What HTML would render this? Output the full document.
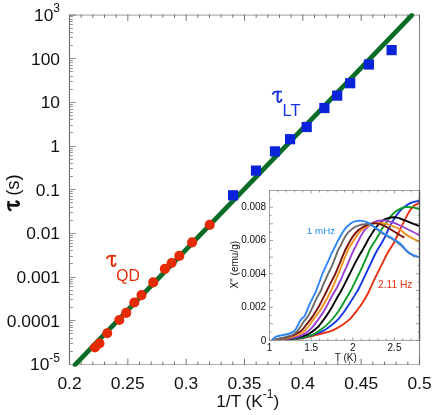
<!DOCTYPE html>
<html><head><meta charset="utf-8"><style>html,body{margin:0;padding:0;background:#fff}svg{display:block;will-change:transform}text{font-family:"Liberation Sans",sans-serif}</style></head><body>
<svg width="436" height="415" viewBox="0 0 436 415">
<rect width="436" height="415" fill="#fff"/>
<g stroke="#b0b0b0" stroke-width="1.2" fill="none">
<line x1="69.5" y1="15.1" x2="419.5" y2="15.1"/>
<line x1="69.5" y1="364.5" x2="419.5" y2="364.5"/>
</g>
<line x1="419.5" y1="15.0" x2="419.5" y2="365.0" stroke="#8a8a8a" stroke-width="1.1"/>
<line x1="69.5" y1="14.5" x2="69.5" y2="365.0" stroke="#6a6a6a" stroke-width="1.1"/>
<g stroke="#5e5e5e" stroke-width="0.85" fill="none">
<line x1="81.17" y1="364.9" x2="81.17" y2="361.5"/>
<line x1="81.17" y1="14.6" x2="81.17" y2="18.0"/>
<line x1="92.83" y1="364.9" x2="92.83" y2="361.5"/>
<line x1="92.83" y1="14.6" x2="92.83" y2="18.0"/>
<line x1="104.50" y1="364.9" x2="104.50" y2="361.5"/>
<line x1="104.50" y1="14.6" x2="104.50" y2="18.0"/>
<line x1="116.17" y1="364.9" x2="116.17" y2="361.5"/>
<line x1="116.17" y1="14.6" x2="116.17" y2="18.0"/>
<line x1="127.83" y1="364.9" x2="127.83" y2="358.7"/>
<line x1="127.83" y1="14.6" x2="127.83" y2="20.8"/>
<line x1="139.50" y1="364.9" x2="139.50" y2="361.5"/>
<line x1="139.50" y1="14.6" x2="139.50" y2="18.0"/>
<line x1="151.17" y1="364.9" x2="151.17" y2="361.5"/>
<line x1="151.17" y1="14.6" x2="151.17" y2="18.0"/>
<line x1="162.83" y1="364.9" x2="162.83" y2="361.5"/>
<line x1="162.83" y1="14.6" x2="162.83" y2="18.0"/>
<line x1="174.50" y1="364.9" x2="174.50" y2="361.5"/>
<line x1="174.50" y1="14.6" x2="174.50" y2="18.0"/>
<line x1="186.17" y1="364.9" x2="186.17" y2="358.7"/>
<line x1="186.17" y1="14.6" x2="186.17" y2="20.8"/>
<line x1="197.83" y1="364.9" x2="197.83" y2="361.5"/>
<line x1="197.83" y1="14.6" x2="197.83" y2="18.0"/>
<line x1="209.50" y1="364.9" x2="209.50" y2="361.5"/>
<line x1="209.50" y1="14.6" x2="209.50" y2="18.0"/>
<line x1="221.17" y1="364.9" x2="221.17" y2="361.5"/>
<line x1="221.17" y1="14.6" x2="221.17" y2="18.0"/>
<line x1="232.83" y1="364.9" x2="232.83" y2="361.5"/>
<line x1="232.83" y1="14.6" x2="232.83" y2="18.0"/>
<line x1="244.50" y1="364.9" x2="244.50" y2="358.7"/>
<line x1="244.50" y1="14.6" x2="244.50" y2="20.8"/>
<line x1="256.17" y1="364.9" x2="256.17" y2="361.5"/>
<line x1="256.17" y1="14.6" x2="256.17" y2="18.0"/>
<line x1="267.83" y1="364.9" x2="267.83" y2="361.5"/>
<line x1="267.83" y1="14.6" x2="267.83" y2="18.0"/>
<line x1="279.50" y1="364.9" x2="279.50" y2="361.5"/>
<line x1="279.50" y1="14.6" x2="279.50" y2="18.0"/>
<line x1="291.17" y1="364.9" x2="291.17" y2="361.5"/>
<line x1="291.17" y1="14.6" x2="291.17" y2="18.0"/>
<line x1="302.83" y1="364.9" x2="302.83" y2="358.7"/>
<line x1="302.83" y1="14.6" x2="302.83" y2="20.8"/>
<line x1="314.50" y1="364.9" x2="314.50" y2="361.5"/>
<line x1="314.50" y1="14.6" x2="314.50" y2="18.0"/>
<line x1="326.17" y1="364.9" x2="326.17" y2="361.5"/>
<line x1="326.17" y1="14.6" x2="326.17" y2="18.0"/>
<line x1="337.83" y1="364.9" x2="337.83" y2="361.5"/>
<line x1="337.83" y1="14.6" x2="337.83" y2="18.0"/>
<line x1="349.50" y1="364.9" x2="349.50" y2="361.5"/>
<line x1="349.50" y1="14.6" x2="349.50" y2="18.0"/>
<line x1="361.17" y1="364.9" x2="361.17" y2="358.7"/>
<line x1="361.17" y1="14.6" x2="361.17" y2="20.8"/>
<line x1="372.83" y1="364.9" x2="372.83" y2="361.5"/>
<line x1="372.83" y1="14.6" x2="372.83" y2="18.0"/>
<line x1="384.50" y1="364.9" x2="384.50" y2="361.5"/>
<line x1="384.50" y1="14.6" x2="384.50" y2="18.0"/>
<line x1="396.17" y1="364.9" x2="396.17" y2="361.5"/>
<line x1="396.17" y1="14.6" x2="396.17" y2="18.0"/>
<line x1="407.83" y1="364.9" x2="407.83" y2="361.5"/>
<line x1="407.83" y1="14.6" x2="407.83" y2="18.0"/>
<line x1="419.50" y1="364.9" x2="419.50" y2="358.7"/>
<line x1="419.50" y1="14.6" x2="419.50" y2="20.8"/>
</g>
<g stroke="#858585" stroke-width="0.9" fill="none">
<line x1="69.5" y1="351.50" x2="72.9" y2="351.50"/>
<line x1="69.5" y1="343.50" x2="72.9" y2="343.50"/>
<line x1="69.5" y1="338.50" x2="72.9" y2="338.50"/>
<line x1="69.5" y1="333.50" x2="72.9" y2="333.50"/>
<line x1="69.5" y1="330.50" x2="72.9" y2="330.50"/>
<line x1="69.5" y1="327.50" x2="72.9" y2="327.50"/>
<line x1="69.5" y1="325.50" x2="72.9" y2="325.50"/>
<line x1="69.5" y1="322.50" x2="72.9" y2="322.50"/>
<line x1="69.5" y1="320.50" x2="75.7" y2="320.50"/>
<line x1="69.5" y1="307.50" x2="72.9" y2="307.50"/>
<line x1="69.5" y1="299.50" x2="72.9" y2="299.50"/>
<line x1="69.5" y1="294.50" x2="72.9" y2="294.50"/>
<line x1="69.5" y1="290.50" x2="72.9" y2="290.50"/>
<line x1="69.5" y1="286.50" x2="72.9" y2="286.50"/>
<line x1="69.5" y1="283.50" x2="72.9" y2="283.50"/>
<line x1="69.5" y1="281.50" x2="72.9" y2="281.50"/>
<line x1="69.5" y1="279.50" x2="72.9" y2="279.50"/>
<line x1="69.5" y1="277.50" x2="75.7" y2="277.50"/>
<line x1="69.5" y1="263.50" x2="72.9" y2="263.50"/>
<line x1="69.5" y1="256.50" x2="72.9" y2="256.50"/>
<line x1="69.5" y1="250.50" x2="72.9" y2="250.50"/>
<line x1="69.5" y1="246.50" x2="72.9" y2="246.50"/>
<line x1="69.5" y1="243.50" x2="72.9" y2="243.50"/>
<line x1="69.5" y1="240.50" x2="72.9" y2="240.50"/>
<line x1="69.5" y1="237.50" x2="72.9" y2="237.50"/>
<line x1="69.5" y1="235.50" x2="72.9" y2="235.50"/>
<line x1="69.5" y1="233.50" x2="75.7" y2="233.50"/>
<line x1="69.5" y1="220.50" x2="72.9" y2="220.50"/>
<line x1="69.5" y1="212.50" x2="72.9" y2="212.50"/>
<line x1="69.5" y1="207.50" x2="72.9" y2="207.50"/>
<line x1="69.5" y1="202.50" x2="72.9" y2="202.50"/>
<line x1="69.5" y1="199.50" x2="72.9" y2="199.50"/>
<line x1="69.5" y1="196.50" x2="72.9" y2="196.50"/>
<line x1="69.5" y1="193.50" x2="72.9" y2="193.50"/>
<line x1="69.5" y1="191.50" x2="72.9" y2="191.50"/>
<line x1="69.5" y1="189.50" x2="75.7" y2="189.50"/>
<line x1="69.5" y1="176.50" x2="72.9" y2="176.50"/>
<line x1="69.5" y1="168.50" x2="72.9" y2="168.50"/>
<line x1="69.5" y1="163.50" x2="72.9" y2="163.50"/>
<line x1="69.5" y1="159.50" x2="72.9" y2="159.50"/>
<line x1="69.5" y1="155.50" x2="72.9" y2="155.50"/>
<line x1="69.5" y1="152.50" x2="72.9" y2="152.50"/>
<line x1="69.5" y1="150.50" x2="72.9" y2="150.50"/>
<line x1="69.5" y1="148.50" x2="72.9" y2="148.50"/>
<line x1="69.5" y1="146.50" x2="75.7" y2="146.50"/>
<line x1="69.5" y1="132.50" x2="72.9" y2="132.50"/>
<line x1="69.5" y1="125.50" x2="72.9" y2="125.50"/>
<line x1="69.5" y1="119.50" x2="72.9" y2="119.50"/>
<line x1="69.5" y1="115.50" x2="72.9" y2="115.50"/>
<line x1="69.5" y1="112.50" x2="72.9" y2="112.50"/>
<line x1="69.5" y1="109.50" x2="72.9" y2="109.50"/>
<line x1="69.5" y1="106.50" x2="72.9" y2="106.50"/>
<line x1="69.5" y1="104.50" x2="72.9" y2="104.50"/>
<line x1="69.5" y1="102.50" x2="75.7" y2="102.50"/>
<line x1="69.5" y1="89.50" x2="72.9" y2="89.50"/>
<line x1="69.5" y1="81.50" x2="72.9" y2="81.50"/>
<line x1="69.5" y1="76.50" x2="72.9" y2="76.50"/>
<line x1="69.5" y1="71.50" x2="72.9" y2="71.50"/>
<line x1="69.5" y1="68.50" x2="72.9" y2="68.50"/>
<line x1="69.5" y1="65.50" x2="72.9" y2="65.50"/>
<line x1="69.5" y1="62.50" x2="72.9" y2="62.50"/>
<line x1="69.5" y1="60.50" x2="72.9" y2="60.50"/>
<line x1="69.5" y1="58.50" x2="75.7" y2="58.50"/>
<line x1="69.5" y1="45.50" x2="72.9" y2="45.50"/>
<line x1="69.5" y1="37.50" x2="72.9" y2="37.50"/>
<line x1="69.5" y1="32.50" x2="72.9" y2="32.50"/>
<line x1="69.5" y1="28.50" x2="72.9" y2="28.50"/>
<line x1="69.5" y1="24.50" x2="72.9" y2="24.50"/>
<line x1="69.5" y1="21.50" x2="72.9" y2="21.50"/>
<line x1="69.5" y1="19.50" x2="72.9" y2="19.50"/>
<line x1="69.5" y1="16.50" x2="72.9" y2="16.50"/>
</g>
<line x1="69.5" y1="15.1" x2="75.7" y2="15.1" stroke="#7a7a7a" stroke-width="1"/>
<g font-size="17.4" fill="#111">
<text x="69.5" y="388.6" text-anchor="middle">0.2</text>
<text x="127.8" y="388.6" text-anchor="middle">0.25</text>
<text x="186.2" y="388.6" text-anchor="middle">0.3</text>
<text x="244.5" y="388.6" text-anchor="middle">0.35</text>
<text x="302.8" y="388.6" text-anchor="middle">0.4</text>
<text x="361.2" y="388.6" text-anchor="middle">0.45</text>
<text x="419.5" y="388.6" text-anchor="middle">0.5</text>
<text x="60" y="64.7" text-anchor="end">100</text>
<text x="60" y="108.4" text-anchor="end">10</text>
<text x="60" y="152.1" text-anchor="end">1</text>
<text x="60" y="195.8" text-anchor="end">0.1</text>
<text x="60" y="239.4" text-anchor="end">0.01</text>
<text x="60" y="283.1" text-anchor="end">0.001</text>
<text x="60" y="326.8" text-anchor="end">0.0001</text>
<text x="60" y="20.9" text-anchor="end">10<tspan font-size="12" dy="-8.8">3</tspan></text>
<text x="60" y="370" text-anchor="end">10<tspan font-size="12" dy="-8">-5</tspan></text>
</g>
<text x="216.3" y="407.4" font-size="17.2" fill="#111">1/T (K<tspan font-size="12" dy="-9.3">-1</tspan><tspan dy="9.3">)</tspan></text>
<g transform="translate(19.8,210.9) rotate(-90) scale(1.0)" fill="none" stroke="#111" stroke-linejoin="round"><path d="M0.5,-8.4 Q1.7,-11.3 4.0,-11.3 L10,-11.3" stroke-width="2.3" stroke-linecap="butt"/><path d="M5.8,-11.3 L5.5,-4.4 Q5.4,-1.0 7.4,-1.0 Q8.8,-1.1 9.4,-3.3" stroke-width="2.6449999999999996" stroke-linecap="round"/></g>
<text transform="translate(18.8,195.8) rotate(-90)" font-size="18.5" fill="#111">(s)</text>
<clipPath id="mc"><rect x="60" y="13.2" width="370" height="353.5"/></clipPath>
<line x1="75.0" y1="364.8" x2="411.7" y2="15.3" stroke="#086b27" stroke-width="4.8" stroke-linecap="round" clip-path="url(#mc)"/>
<rect x="228.0" y="190.2" width="10.2" height="10.2" fill="#0a22d8"/>
<rect x="250.9" y="165.5" width="10.2" height="10.2" fill="#0a22d8"/>
<rect x="269.9" y="146.3" width="10.2" height="10.2" fill="#0a22d8"/>
<rect x="285.0" y="134.1" width="10.2" height="10.2" fill="#0a22d8"/>
<rect x="301.6" y="121.9" width="10.2" height="10.2" fill="#0a22d8"/>
<rect x="319.3" y="102.9" width="10.2" height="10.2" fill="#0a22d8"/>
<rect x="332.1" y="90.5" width="10.2" height="10.2" fill="#0a22d8"/>
<rect x="345.1" y="78.1" width="10.2" height="10.2" fill="#0a22d8"/>
<rect x="363.8" y="59.4" width="10.2" height="10.2" fill="#0a22d8"/>
<rect x="386.5" y="45.0" width="10.2" height="10.2" fill="#0a22d8"/>
<circle cx="209.7" cy="224.9" r="5.05" fill="#e52b05"/>
<circle cx="192.1" cy="242.4" r="5.05" fill="#e52b05"/>
<circle cx="179.3" cy="255.9" r="5.05" fill="#e52b05"/>
<circle cx="171.6" cy="263.0" r="5.05" fill="#e52b05"/>
<circle cx="164.8" cy="268.9" r="5.05" fill="#e52b05"/>
<circle cx="153.2" cy="282.4" r="5.05" fill="#e52b05"/>
<circle cx="141.5" cy="295.1" r="5.05" fill="#e52b05"/>
<circle cx="134.3" cy="302.5" r="5.05" fill="#e52b05"/>
<circle cx="126.2" cy="312.9" r="5.05" fill="#e52b05"/>
<circle cx="119.3" cy="320.0" r="5.05" fill="#e52b05"/>
<circle cx="107.2" cy="333.3" r="5.05" fill="#e52b05"/>
<circle cx="99.5" cy="343.4" r="5.05" fill="#e52b05"/>
<circle cx="94.9" cy="347.5" r="5.05" fill="#e52b05"/>
<g transform="translate(272,103) rotate(0) scale(1.0)" fill="none" stroke="#1531e0" stroke-linejoin="round"><path d="M0.5,-8.4 Q1.7,-11.3 4.0,-11.3 L10,-11.3" stroke-width="1.8" stroke-linecap="butt"/><path d="M5.8,-11.3 L5.5,-4.4 Q5.4,-1.0 7.4,-1.0 Q8.8,-1.1 9.4,-3.3" stroke-width="2.07" stroke-linecap="round"/></g>
<text x="282.6" y="115.9" font-size="16.5" fill="#1531e0">LT</text>
<g transform="translate(106.2,267.2) rotate(0) scale(1.0)" fill="none" stroke="#e52b05" stroke-linejoin="round"><path d="M0.5,-8.4 Q1.7,-11.3 4.0,-11.3 L10,-11.3" stroke-width="1.8" stroke-linecap="butt"/><path d="M5.8,-11.3 L5.5,-4.4 Q5.4,-1.0 7.4,-1.0 Q8.8,-1.1 9.4,-3.3" stroke-width="2.07" stroke-linecap="round"/></g>
<text x="116.2" y="280.9" font-size="15.7" fill="#e52b05">QD</text>
<rect x="269.5" y="190.5" width="150.0" height="149.89999999999998" fill="#fff" stroke="none"/>
<clipPath id="ic"><rect x="269.5" y="190.5" width="150.5" height="150.4"/></clipPath><g clip-path="url(#ic)"><path d="M272.0,340.3 C276.7,340.0 292.0,339.7 300.0,338.6 C308.0,337.6 315.7,335.0 320.0,334.0 C324.3,333.0 324.0,333.1 326.0,332.5 C328.0,331.9 330.0,331.4 332.0,330.6 C334.0,329.8 336.1,328.6 338.1,327.5 C340.1,326.4 342.1,325.1 344.1,323.7 C346.1,322.3 348.1,320.9 350.1,318.9 C352.1,316.9 354.1,314.3 356.1,311.7 C358.1,309.1 360.2,306.4 362.2,303.3 C364.2,300.2 366.9,295.4 368.2,293.0 C369.5,290.6 368.7,291.8 370.0,289.0 C371.3,286.2 374.0,280.2 376.0,276.1 C378.0,272.0 380.0,268.1 382.0,264.1 C384.0,260.1 386.2,255.4 388.1,252.0 C390.0,248.6 391.9,246.4 393.5,243.5 C395.1,240.6 396.5,237.4 397.7,234.8 C398.9,232.2 399.7,230.2 400.7,228.1 C401.7,226.0 402.7,224.1 403.7,222.1 C404.7,220.1 405.7,218.0 406.7,216.1 C407.7,214.2 408.8,212.2 409.8,210.7 C410.8,209.2 411.8,208.0 412.8,207.0 C413.8,206.0 414.8,205.2 415.8,204.6 C416.8,204.0 418.1,203.5 418.8,203.2 C419.5,202.8 419.8,202.6 420.0,202.5" fill="none" stroke="#e8300f" stroke-width="1.9" stroke-linejoin="round" stroke-linecap="butt"/>
<path d="M272.0,340.3 C276.7,339.9 292.0,339.5 300.0,338.2 C308.0,336.9 315.7,333.8 320.0,332.3 C324.3,330.8 324.0,330.4 326.0,329.2 C328.0,327.9 330.0,326.4 332.0,324.8 C334.0,323.2 336.1,321.6 338.1,319.4 C340.1,317.2 342.1,314.5 344.1,311.7 C346.1,308.9 348.1,305.8 350.1,302.7 C352.1,299.6 354.8,295.1 356.1,293.0 C357.4,290.9 357.0,291.9 358.0,290.0 C359.0,288.1 360.5,285.1 362.2,281.6 C363.9,278.1 366.9,271.7 368.2,268.9 C369.5,266.1 368.7,267.7 370.0,265.0 C371.3,262.3 374.1,256.1 376.0,252.5 C377.9,248.9 379.8,246.3 381.4,243.5 C383.0,240.7 384.5,237.9 385.7,235.4 C386.9,232.9 387.2,231.6 388.7,228.7 C390.2,225.8 392.7,221.0 394.7,217.9 C396.7,214.8 398.7,212.2 400.7,210.1 C402.7,208.0 404.7,206.5 406.7,205.2 C408.7,203.9 410.8,202.9 412.8,202.2 C414.8,201.5 417.6,201.2 418.8,201.0 C420.0,200.8 419.8,200.8 420.0,200.8" fill="none" stroke="#1238e8" stroke-width="1.9" stroke-linejoin="round" stroke-linecap="butt"/>
<path d="M272.0,340.3 C276.3,340.0 291.3,339.2 298.0,338.3 C304.7,337.4 308.8,336.3 312.2,335.2 C315.6,334.1 316.9,332.5 318.2,331.6 C319.5,330.8 318.7,331.1 320.0,330.1 C321.3,329.1 324.0,327.4 326.0,325.6 C328.0,323.8 330.0,321.8 332.0,319.5 C334.0,317.2 336.1,314.6 338.1,311.7 C340.1,308.8 342.1,305.3 344.1,302.0 C346.1,298.7 348.1,295.5 350.1,291.8 C352.1,288.1 354.1,283.9 356.1,279.8 C358.1,275.7 360.2,271.5 362.2,267.1 C364.2,262.7 366.9,256.3 368.2,253.3 C369.5,250.3 368.8,251.2 370.0,249.0 C371.2,246.8 374.2,242.4 375.7,240.0 C377.2,237.6 377.9,236.4 379.0,234.5 C380.1,232.6 380.8,230.6 382.0,228.7 C383.2,226.8 384.8,225.0 386.0,223.3 C387.2,221.6 388.0,219.9 389.0,218.5 C390.0,217.1 391.0,216.0 392.0,214.9 C393.0,213.8 393.5,213.0 395.0,211.9 C396.5,210.8 399.1,209.1 401.0,208.3 C402.9,207.5 404.2,207.2 406.1,207.0 C408.0,206.8 410.2,207.1 412.2,207.4 C414.2,207.7 416.9,208.6 418.2,208.9 C419.5,209.2 419.7,209.4 420.0,209.5" fill="none" stroke="#0c9a22" stroke-width="1.9" stroke-linejoin="round" stroke-linecap="butt"/>
<path d="M272.0,340.3 C275.3,340.0 286.3,339.4 292.0,338.5 C297.7,337.6 302.7,336.3 306.1,335.2 C309.5,334.1 310.2,333.0 312.2,331.6 C314.2,330.2 316.9,327.9 318.2,326.7 C319.5,325.5 318.7,326.2 320.0,324.5 C321.3,322.8 324.0,319.4 326.0,316.5 C328.0,313.6 330.0,310.3 332.0,306.9 C334.0,303.5 336.5,298.8 338.1,296.0 C339.7,293.2 340.6,291.8 341.6,290.0 C342.6,288.2 342.7,288.0 344.1,285.2 C345.5,282.4 348.1,277.1 350.1,273.1 C352.1,269.1 354.1,264.9 356.1,261.1 C358.2,257.3 360.9,252.8 362.4,250.2 C363.9,247.5 364.2,247.0 365.2,245.2 C366.2,243.4 367.4,240.9 368.2,239.5 C369.0,238.1 369.2,237.9 370.0,236.6 C370.8,235.3 372.0,233.2 373.0,231.7 C374.0,230.2 375.0,228.8 376.0,227.5 C377.0,226.2 378.0,225.0 379.0,223.9 C380.0,222.8 381.0,221.7 382.0,220.9 C383.0,220.1 384.1,219.6 385.1,219.1 C386.1,218.6 386.6,218.4 388.1,218.1 C389.6,217.8 392.6,217.4 394.1,217.3 C395.6,217.2 396.1,217.4 397.1,217.6 C398.1,217.8 398.6,217.9 400.1,218.5 C401.6,219.1 404.1,220.1 406.1,220.9 C408.1,221.7 410.2,222.5 412.2,223.3 C414.2,224.1 416.9,225.2 418.2,225.7 C419.5,226.2 419.7,226.2 420.0,226.3" fill="none" stroke="#000000" stroke-width="1.9" stroke-linejoin="round" stroke-linecap="butt"/>
<path d="M272.0,340.3 C275.0,339.9 285.3,338.9 290.0,338.2 C294.7,337.5 297.3,336.9 300.0,336.0 C302.7,335.1 304.1,334.2 306.1,332.8 C308.1,331.4 310.2,329.5 312.2,327.3 C314.2,325.1 316.9,321.2 318.2,319.5 C319.5,317.8 318.7,319.1 320.0,317.1 C321.3,315.1 324.0,311.0 326.0,307.5 C328.0,304.0 330.4,298.9 332.0,296.0 C333.6,293.1 334.5,291.8 335.5,290.0 C336.5,288.2 337.2,287.0 338.1,285.2 C339.0,283.4 340.1,281.4 341.1,279.2 C342.1,277.0 343.1,274.2 344.1,271.9 C345.1,269.6 346.1,267.6 347.1,265.3 C348.1,263.0 349.1,260.4 350.1,258.1 C351.1,255.8 352.1,253.5 353.1,251.4 C354.1,249.3 355.1,247.6 356.1,245.6 C357.1,243.6 358.2,241.4 359.2,239.4 C360.2,237.4 361.2,235.3 362.2,233.7 C363.2,232.0 364.2,230.7 365.2,229.5 C366.2,228.3 367.4,227.2 368.2,226.5 C369.0,225.8 369.2,225.8 370.0,225.2 C370.8,224.6 372.0,223.4 373.0,222.7 C374.0,222.1 375.0,221.6 376.0,221.3 C377.0,221.0 378.0,220.8 379.0,220.7 C380.0,220.6 381.0,220.5 382.0,220.5 C383.0,220.5 384.1,220.4 385.1,220.5 C386.1,220.6 386.6,220.7 388.1,221.1 C389.6,221.5 392.1,222.2 394.1,222.9 C396.1,223.6 398.1,224.6 400.1,225.5 C402.1,226.4 404.1,227.5 406.1,228.5 C408.1,229.5 410.2,230.5 412.2,231.5 C414.2,232.5 416.9,233.9 418.2,234.6 C419.5,235.3 419.7,235.6 420.0,235.8" fill="none" stroke="#9a3fd6" stroke-width="1.9" stroke-linejoin="round" stroke-linecap="butt"/>
<path d="M272.0,340.3 C274.7,339.9 283.3,338.9 288.0,337.8 C292.7,336.8 297.1,335.4 300.1,334.0 C303.1,332.6 304.1,331.3 306.1,329.2 C308.1,327.1 310.2,324.0 312.2,321.3 C314.2,318.6 316.9,314.7 318.2,312.9 C319.5,311.1 318.7,312.6 320.0,310.5 C321.3,308.4 324.1,303.6 326.0,300.2 C327.9,296.8 329.9,293.1 331.4,290.0 C332.9,286.9 334.0,284.2 335.1,281.6 C336.2,279.0 337.1,276.7 338.1,274.3 C339.1,271.9 340.1,269.6 341.1,267.1 C342.1,264.6 343.1,261.8 344.1,259.3 C345.1,256.8 346.2,254.1 347.1,252.0 C348.1,249.9 348.8,248.2 349.8,246.5 C350.8,244.8 352.1,243.1 353.1,241.5 C354.2,239.9 355.1,238.2 356.1,236.7 C357.1,235.2 358.2,233.7 359.2,232.5 C360.2,231.3 361.2,230.3 362.2,229.5 C363.2,228.7 364.2,228.1 365.2,227.5 C366.2,226.9 367.4,226.4 368.2,225.9 C369.0,225.4 368.7,225.1 370.0,224.6 C371.3,224.1 374.0,223.3 376.0,223.1 C378.0,222.8 380.0,222.9 382.0,223.1 C384.0,223.3 386.1,223.7 388.1,224.3 C390.1,224.9 392.6,226.1 394.1,226.7 C395.6,227.3 396.1,227.4 397.1,227.9 C398.1,228.4 399.1,229.0 400.1,229.7 C401.1,230.4 402.1,231.3 403.1,232.1 C404.1,232.9 404.6,233.6 406.1,234.6 C407.6,235.6 410.2,237.1 412.2,238.2 C414.2,239.3 416.9,240.5 418.2,241.2 C419.5,241.9 419.7,242.2 420.0,242.4" fill="none" stroke="#f5921e" stroke-width="1.9" stroke-linejoin="round" stroke-linecap="butt"/>
<path d="M272.0,340.3 C274.3,339.8 281.3,338.9 286.0,337.5 C290.7,336.1 296.8,333.7 300.1,331.6 C303.5,329.5 304.1,327.3 306.1,324.9 C308.1,322.5 310.7,319.2 312.2,317.1 C313.7,315.0 314.2,313.9 315.2,312.3 C316.2,310.7 317.4,308.8 318.2,307.5 C319.0,306.2 319.2,305.8 320.0,304.3 C320.8,302.8 321.8,300.8 323.0,298.4 C324.2,296.0 325.7,293.0 327.2,290.0 C328.7,287.0 330.7,283.0 332.0,280.4 C333.3,277.8 334.1,276.5 335.1,274.3 C336.1,272.1 337.1,269.5 338.1,267.1 C339.1,264.7 340.1,262.3 341.1,259.9 C342.1,257.5 343.2,254.8 344.1,252.7 C345.0,250.6 345.5,249.4 346.5,247.5 C347.5,245.6 349.0,242.9 350.1,241.0 C351.2,239.1 352.1,237.5 353.1,236.1 C354.1,234.7 355.1,233.6 356.1,232.5 C357.1,231.4 358.2,230.3 359.2,229.5 C360.2,228.7 361.2,228.1 362.2,227.5 C363.2,226.9 364.2,226.4 365.2,225.9 C366.2,225.4 367.4,224.9 368.2,224.5 C369.0,224.1 368.7,223.8 370.0,223.6 C371.3,223.4 374.0,223.2 376.0,223.4 C378.0,223.6 380.0,224.2 382.0,224.9 C384.0,225.7 386.1,226.8 388.1,227.9 C390.1,229.0 392.1,230.3 394.1,231.5 C396.1,232.7 398.4,234.2 400.1,235.2 C401.8,236.2 403.6,237.2 404.3,237.6" fill="none" stroke="#7a1408" stroke-width="1.9" stroke-linejoin="round" stroke-linecap="butt"/>
<path d="M272.0,340.2 C274.0,339.8 280.3,338.5 284.0,337.5 C287.7,336.5 291.4,335.7 294.1,334.0 C296.8,332.3 298.6,329.2 300.1,327.3 C301.6,325.4 302.1,323.9 303.1,322.5 C304.1,321.1 305.1,320.3 306.1,318.9 C307.1,317.5 308.2,315.9 309.2,314.1 C310.2,312.3 311.2,310.2 312.2,308.1 C313.2,306.0 314.2,303.5 315.2,301.4 C316.2,299.3 317.2,297.3 318.2,295.4 C319.2,293.5 320.4,291.7 321.2,290.0 C322.0,288.3 322.2,287.1 323.0,285.2 C323.8,283.3 325.0,280.8 326.0,278.6 C327.0,276.4 328.0,274.0 329.0,271.9 C330.0,269.8 331.0,268.2 332.0,265.9 C333.0,263.6 334.1,260.7 335.1,258.1 C336.1,255.5 337.1,252.4 338.1,250.2 C339.1,248.0 340.1,246.7 341.1,244.8 C342.1,242.9 343.1,240.4 344.1,238.6 C345.1,236.8 346.1,235.0 347.1,233.7 C348.1,232.4 349.1,231.6 350.1,230.7 C351.1,229.8 352.1,229.0 353.1,228.3 C354.1,227.6 355.1,227.0 356.1,226.5 C357.1,226.0 358.2,225.6 359.2,225.3 C360.2,225.0 361.2,224.7 362.2,224.5 C363.2,224.3 364.2,224.2 365.2,224.1 C366.2,224.0 367.1,223.9 368.2,224.1 C369.3,224.3 370.7,224.8 372.0,225.5 C373.3,226.2 374.3,227.4 376.0,228.6 C377.7,229.8 380.0,231.6 382.0,232.9 C384.0,234.2 386.1,235.4 388.1,236.6 C390.1,237.8 392.1,238.9 394.1,240.2 C396.1,241.5 398.6,243.2 400.1,244.4 C401.6,245.6 402.1,246.3 403.1,247.3 C404.1,248.3 405.1,249.6 406.1,250.6 C407.1,251.6 408.2,252.5 409.2,253.2 C410.2,253.9 411.1,254.4 412.2,255.0 C413.2,255.6 414.9,256.5 415.5,256.8" fill="none" stroke="#6a6a6a" stroke-width="1.9" stroke-linejoin="round" stroke-linecap="butt"/>
<path d="M272.0,339.8 C272.6,339.3 273.7,337.8 275.4,337.0 C277.1,336.2 279.9,335.7 282.0,335.2 C284.1,334.7 286.1,334.7 288.1,334.0 C290.1,333.3 292.6,332.2 294.1,331.0 C295.6,329.8 296.1,328.4 297.1,326.7 C298.1,325.0 299.3,322.1 300.1,320.7 C300.9,319.3 301.2,319.0 301.9,318.3 C302.6,317.6 303.6,317.4 304.3,316.5 C305.0,315.6 305.3,314.8 306.1,312.9 C306.9,311.0 308.2,307.4 309.2,305.1 C310.2,302.8 311.2,301.0 312.2,299.0 C313.2,297.0 314.5,294.5 315.2,293.0 C315.9,291.5 315.6,292.1 316.4,290.0 C317.2,287.9 318.9,283.3 320.0,280.4 C321.1,277.5 322.0,274.9 323.0,272.5 C324.0,270.1 325.0,268.1 326.0,265.9 C327.0,263.7 328.0,261.5 329.0,259.3 C330.0,257.1 331.2,254.3 332.0,252.7 C332.8,251.1 332.5,251.9 333.5,249.8 C334.5,247.8 336.8,242.9 338.1,240.4 C339.4,237.9 340.1,236.6 341.1,234.9 C342.1,233.2 343.1,231.5 344.1,230.1 C345.1,228.7 346.1,227.5 347.1,226.5 C348.1,225.5 349.1,224.7 350.1,223.9 C351.1,223.2 352.1,222.5 353.1,222.0 C354.1,221.5 355.1,221.3 356.1,221.1 C357.1,220.9 358.2,220.7 359.2,220.7 C360.2,220.7 361.2,220.8 362.2,220.9 C363.2,221.1 364.2,221.3 365.2,221.6 C366.2,221.9 367.4,222.4 368.2,222.8 C369.0,223.2 368.7,222.9 370.0,223.8 C371.3,224.7 374.0,226.7 376.0,228.1 C378.0,229.5 380.0,231.0 382.0,232.3 C384.0,233.6 386.1,234.8 388.1,236.0 C390.1,237.2 392.1,238.3 394.1,239.6 C396.1,240.9 398.6,242.4 400.1,243.6 C401.6,244.8 402.1,245.5 403.1,246.6 C404.1,247.7 405.1,249.2 406.1,250.2 C407.1,251.2 408.2,252.0 409.2,252.7 C410.2,253.4 411.2,254.0 412.2,254.5 C413.2,255.0 414.2,255.3 415.2,255.7 C416.2,256.1 417.4,256.5 418.2,256.9 C419.0,257.2 419.7,257.6 420.0,257.8" fill="none" stroke="#2e86f7" stroke-width="1.9" stroke-linejoin="round" stroke-linecap="butt"/></g>
<g stroke="#a2a2a2" stroke-width="1" fill="none">
<line x1="269.5" y1="190.5" x2="419.5" y2="190.5"/>
<line x1="269.5" y1="190.0" x2="269.5" y2="340.9"/>
<line x1="269.5" y1="340.4" x2="419.5" y2="340.4"/>
</g>
<line x1="419.5" y1="190.0" x2="419.5" y2="340.9" stroke="#484848" stroke-width="1.3"/>
<g stroke="#777" stroke-width="0.7" fill="none">
<line x1="269.50" y1="340.4" x2="269.50" y2="337.4"/>
<line x1="269.50" y1="190.5" x2="269.50" y2="193.5"/>
<line x1="277.83" y1="340.4" x2="277.83" y2="338.4"/>
<line x1="277.83" y1="190.5" x2="277.83" y2="192.5"/>
<line x1="286.17" y1="340.4" x2="286.17" y2="338.4"/>
<line x1="286.17" y1="190.5" x2="286.17" y2="192.5"/>
<line x1="294.50" y1="340.4" x2="294.50" y2="338.4"/>
<line x1="294.50" y1="190.5" x2="294.50" y2="192.5"/>
<line x1="302.83" y1="340.4" x2="302.83" y2="338.4"/>
<line x1="302.83" y1="190.5" x2="302.83" y2="192.5"/>
<line x1="311.17" y1="340.4" x2="311.17" y2="337.4"/>
<line x1="311.17" y1="190.5" x2="311.17" y2="193.5"/>
<line x1="319.50" y1="340.4" x2="319.50" y2="338.4"/>
<line x1="319.50" y1="190.5" x2="319.50" y2="192.5"/>
<line x1="327.83" y1="340.4" x2="327.83" y2="338.4"/>
<line x1="327.83" y1="190.5" x2="327.83" y2="192.5"/>
<line x1="336.17" y1="340.4" x2="336.17" y2="338.4"/>
<line x1="336.17" y1="190.5" x2="336.17" y2="192.5"/>
<line x1="344.50" y1="340.4" x2="344.50" y2="338.4"/>
<line x1="344.50" y1="190.5" x2="344.50" y2="192.5"/>
<line x1="352.83" y1="340.4" x2="352.83" y2="337.4"/>
<line x1="352.83" y1="190.5" x2="352.83" y2="193.5"/>
<line x1="361.17" y1="340.4" x2="361.17" y2="338.4"/>
<line x1="361.17" y1="190.5" x2="361.17" y2="192.5"/>
<line x1="369.50" y1="340.4" x2="369.50" y2="338.4"/>
<line x1="369.50" y1="190.5" x2="369.50" y2="192.5"/>
<line x1="377.83" y1="340.4" x2="377.83" y2="338.4"/>
<line x1="377.83" y1="190.5" x2="377.83" y2="192.5"/>
<line x1="386.17" y1="340.4" x2="386.17" y2="338.4"/>
<line x1="386.17" y1="190.5" x2="386.17" y2="192.5"/>
<line x1="394.50" y1="340.4" x2="394.50" y2="337.4"/>
<line x1="394.50" y1="190.5" x2="394.50" y2="193.5"/>
<line x1="402.83" y1="340.4" x2="402.83" y2="338.4"/>
<line x1="402.83" y1="190.5" x2="402.83" y2="192.5"/>
<line x1="411.17" y1="340.4" x2="411.17" y2="338.4"/>
<line x1="411.17" y1="190.5" x2="411.17" y2="192.5"/>
<line x1="419.50" y1="340.4" x2="419.50" y2="338.4"/>
<line x1="419.50" y1="190.5" x2="419.50" y2="192.5"/>
<line x1="269.5" y1="340.40" x2="273.0" y2="340.40"/>
<line x1="419.5" y1="340.40" x2="416.0" y2="340.40"/>
<line x1="269.5" y1="332.07" x2="271.5" y2="332.07"/>
<line x1="419.5" y1="332.07" x2="417.5" y2="332.07"/>
<line x1="269.5" y1="323.74" x2="273.0" y2="323.74"/>
<line x1="419.5" y1="323.74" x2="416.0" y2="323.74"/>
<line x1="269.5" y1="315.42" x2="271.5" y2="315.42"/>
<line x1="419.5" y1="315.42" x2="417.5" y2="315.42"/>
<line x1="269.5" y1="307.09" x2="273.0" y2="307.09"/>
<line x1="419.5" y1="307.09" x2="416.0" y2="307.09"/>
<line x1="269.5" y1="298.76" x2="271.5" y2="298.76"/>
<line x1="419.5" y1="298.76" x2="417.5" y2="298.76"/>
<line x1="269.5" y1="290.43" x2="273.0" y2="290.43"/>
<line x1="419.5" y1="290.43" x2="416.0" y2="290.43"/>
<line x1="269.5" y1="282.11" x2="271.5" y2="282.11"/>
<line x1="419.5" y1="282.11" x2="417.5" y2="282.11"/>
<line x1="269.5" y1="273.78" x2="273.0" y2="273.78"/>
<line x1="419.5" y1="273.78" x2="416.0" y2="273.78"/>
<line x1="269.5" y1="265.45" x2="271.5" y2="265.45"/>
<line x1="419.5" y1="265.45" x2="417.5" y2="265.45"/>
<line x1="269.5" y1="257.12" x2="273.0" y2="257.12"/>
<line x1="419.5" y1="257.12" x2="416.0" y2="257.12"/>
<line x1="269.5" y1="248.79" x2="271.5" y2="248.79"/>
<line x1="419.5" y1="248.79" x2="417.5" y2="248.79"/>
<line x1="269.5" y1="240.47" x2="273.0" y2="240.47"/>
<line x1="419.5" y1="240.47" x2="416.0" y2="240.47"/>
<line x1="269.5" y1="232.14" x2="271.5" y2="232.14"/>
<line x1="419.5" y1="232.14" x2="417.5" y2="232.14"/>
<line x1="269.5" y1="223.81" x2="273.0" y2="223.81"/>
<line x1="419.5" y1="223.81" x2="416.0" y2="223.81"/>
<line x1="269.5" y1="215.48" x2="271.5" y2="215.48"/>
<line x1="419.5" y1="215.48" x2="417.5" y2="215.48"/>
<line x1="269.5" y1="207.16" x2="273.0" y2="207.16"/>
<line x1="419.5" y1="207.16" x2="416.0" y2="207.16"/>
<line x1="269.5" y1="198.83" x2="271.5" y2="198.83"/>
<line x1="419.5" y1="198.83" x2="417.5" y2="198.83"/>
</g>
<g font-size="10" fill="#111">
<text x="269.5" y="350.8" text-anchor="middle">1</text>
<text x="311.2" y="350.8" text-anchor="middle">1.5</text>
<text x="352.8" y="350.8" text-anchor="middle">2</text>
<text x="394.5" y="350.8" text-anchor="middle">2.5</text>
<text x="266.2" y="343.8" text-anchor="end">0</text>
<text x="266.2" y="310.3" text-anchor="end">0.002</text>
<text x="266.2" y="276.8" text-anchor="end">0.004</text>
<text x="266.2" y="243.3" text-anchor="end">0.006</text>
<text x="266.2" y="209.8" text-anchor="end">0.008</text>
<text x="345.8" y="360.8" text-anchor="middle">T (K)</text>
<text transform="translate(238.2,288.4) rotate(-90)">X" (emu/g)</text>
</g>
<text x="306.8" y="233.6" font-size="9.8" fill="#2a8af7">1 mHz</text>
<text x="378" y="288.2" font-size="10.2" fill="#e8300f">2.11 Hz</text>
</svg></body></html>
